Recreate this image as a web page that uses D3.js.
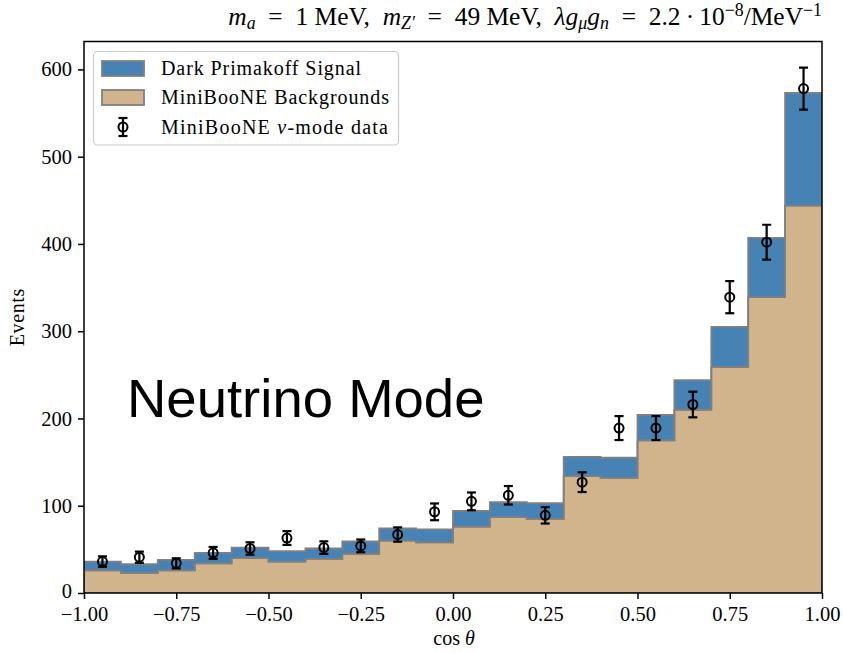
<!DOCTYPE html>
<html><head><meta charset="utf-8">
<script src="https://cdn.jsdelivr.net/npm/d3@7"></script>
<style>body{margin:0;background:#fff}svg{display:block}</style>
</head><body><svg id="c" width="843" height="653"></svg>
<script>
const binEdges = [-1.0,-0.9,-0.8,-0.7,-0.6,-0.5,-0.4,-0.3,-0.2,-0.1,0.0,0.1,0.2,0.3,0.4,0.5,0.6,0.7,0.8,0.9,1.0];
const background = [26,23,26,34,40,36,39,45,60,58,76,87,85,134,132,175,210,259,339,444];
const signal = [10,10,12,12,12,12,12,14,14,15,18,17,18,22,23,29,34,46,68,129];
const dataCenters = [-0.95,-0.85,-0.75,-0.65,-0.55,-0.45,-0.35,-0.25,-0.15,-0.05,0.05,0.15,0.25,0.35,0.45,0.55,0.65,0.75,0.85,0.95];
const dataCounts = [36,41,34,46,51,63,52,54,67,93,105,112,89,127,189,189,216,339,402,578];
const dataErr = [6,6.4,5.8,6.8,7.1,7.9,7.2,7.3,8.2,9.6,10.2,10.6,9.4,11.3,13.7,13.7,14.7,18.4,20,24];
const xTicks = [-1,-0.75,-0.5,-0.25,0,0.25,0.5,0.75,1];
const yTicks = [0,100,200,300,400,500,600];
const legendLabels = ["Dark Primakoff Signal","MiniBooNE Backgrounds","MiniBooNE ν-mode data"];

const W = 843, H = 653;
const m = {left:84, right:822, top:41.5, bottom:593};
const svg = d3.select("#c");
const serif = "'Liberation Serif','DejaVu Serif',serif";

const x = d3.scaleLinear().domain([-1,1]).range([m.left,m.right]);
const y = d3.scaleLinear().domain([0,632]).range([m.bottom,m.top]);

svg.append("defs").append("clipPath").attr("id","pc")
  .append("rect").attr("x",m.left).attr("y",m.top).attr("width",m.right-m.left).attr("height",m.bottom-m.top);

const g = svg.append("g").attr("clip-path","url(#pc)");

const totals = background.map((b,i)=>b+signal[i]);
function stepPts(vals){
  const pts=[];
  vals.forEach((v,i)=>{pts.push([x(binEdges[i]),y(v)]);pts.push([x(binEdges[i+1]),y(v)]);});
  return pts;
}
const line = d3.line();
const bgPts = [[x(-1),y(0)], ...stepPts(background), [x(1),y(0)]];
g.append("path").attr("d", line(bgPts)+"Z").attr("fill","#D2B48C").attr("stroke","#808080").attr("stroke-width",1.8);
const sigPts = [...stepPts(totals), ...stepPts(background).reverse()];
g.append("path").attr("d", line(sigPts)+"Z").attr("fill","#4682B4").attr("stroke","#808080").attr("stroke-width",1.8);

const dg = g.append("g");
dataCounts.forEach((v,i)=>{
  const cx = x(dataCenters[i]);
  const y1 = y(v-dataErr[i]), y2 = y(v+dataErr[i]);
  dg.append("line").attr("x1",cx).attr("x2",cx).attr("y1",y1).attr("y2",y2).attr("stroke","#000").attr("stroke-width",2.2);
  [y1,y2].forEach(yy=>dg.append("line").attr("x1",cx-4.5).attr("x2",cx+4.5).attr("y1",yy).attr("y2",yy).attr("stroke","#000").attr("stroke-width",2.2));
  dg.append("circle").attr("cx",cx).attr("cy",y(v)).attr("r",4.5).attr("fill","none").attr("stroke","#000").attr("stroke-width",2);
});

const fmtX = d => (d<0?"\u2212":"") + Math.abs(d).toFixed(2);
const xAxis = svg.append("g").attr("transform",`translate(0,${m.bottom})`)
  .call(d3.axisBottom(x).tickValues(xTicks).tickFormat(fmtX).tickSize(6).tickPadding(6));
const yAxis = svg.append("g").attr("transform",`translate(${m.left},0)`)
  .call(d3.axisLeft(y).tickValues(yTicks).tickFormat(d3.format("d")).tickSize(6).tickPadding(6));
[xAxis,yAxis].forEach(a=>{
  a.select(".domain").remove();
  a.selectAll("line").attr("stroke","#000").attr("stroke-width",1.5);
  a.selectAll("text").attr("font-family",serif).attr("font-size",20.5).attr("fill","#000");
});
xAxis.selectAll("text").attr("dy","0.76em");
yAxis.selectAll("text").filter(d=>d===0).attr("dy","0.22em");
svg.append("rect").attr("x",m.left).attr("y",m.top).attr("width",m.right-m.left).attr("height",m.bottom-m.top)
  .attr("fill","none").attr("stroke","#000").attr("stroke-width",1.5);

svg.append("text").attr("x",(m.left+m.right)/2+1).attr("y",645).attr("text-anchor","middle")
  .attr("font-family",serif).attr("font-size",20).html("cos <tspan font-style='italic'>θ</tspan>");
svg.append("text").attr("transform",`translate(24,${(m.top+m.bottom)/2}) rotate(-90)`).attr("text-anchor","middle")
  .attr("font-family",serif).attr("font-size",20).attr("letter-spacing",0.6).text("Events");

const t = svg.append("text").attr("x",m.right).attr("y",25).attr("text-anchor","end")
  .attr("font-family",serif).attr("font-size",23);
const sp = "\u2002";
const sub = "style='font-size:0.7em'";
t.html(
 `<tspan font-style='italic'>m</tspan><tspan font-style='italic' ${sub} dy='4'>a</tspan>`+
 `<tspan dy='-4'>${sp}=${sp}1 MeV,\u2002</tspan><tspan font-style='italic'>m</tspan><tspan font-style='italic' ${sub} dy='4'>Z′</tspan>`+
 `<tspan dy='-4'>${sp}=${sp}49 MeV,\u2002</tspan><tspan font-style='italic'>λg</tspan><tspan font-style='italic' ${sub} dy='4'>μ</tspan>`+
 `<tspan font-style='italic' dy='-4'>g</tspan><tspan font-style='italic' ${sub} dy='4'>n</tspan>`+
 `<tspan dy='-4'>${sp}=${sp}2.2\u2009·\u200910</tspan><tspan ${sub} dy='-9'>−8</tspan><tspan dy='9'>/MeV</tspan><tspan ${sub} dy='-9'>−1</tspan>`
);
const tw = t.node().getComputedTextLength();
if (tw > 0) t.attr("font-size", Math.max(19, Math.min(26, 23 * 594 / tw)));

svg.append("text").attr("x",127).attr("y",417).attr("font-family","'Liberation Sans',Arial,sans-serif")
  .attr("font-size",54.5).attr("fill","#000").text("Neutrino Mode");

const lg = svg.append("g");
lg.append("rect").attr("x",93.5).attr("y",51.5).attr("width",305).attr("height",93.5).attr("rx",4)
  .attr("fill","#fff").attr("fill-opacity",0.8).attr("stroke","#cccccc").attr("stroke-width",1.2);
const rowY = [68, 97, 127];
const legendW = [200, 228, 227];
lg.append("rect").attr("x",102).attr("y",61).attr("width",42).attr("height",15).attr("fill","#4682B4").attr("stroke","#808080").attr("stroke-width",1.8);
lg.append("rect").attr("x",102).attr("y",90).attr("width",42).attr("height",15).attr("fill","#D2B48C").attr("stroke","#808080").attr("stroke-width",1.8);
const lx = 123, ly = rowY[2];
lg.append("line").attr("x1",lx).attr("x2",lx).attr("y1",ly-9).attr("y2",ly+9).attr("stroke","#000").attr("stroke-width",2.2);
[ly-9,ly+9].forEach(yy=>lg.append("line").attr("x1",lx-4.5).attr("x2",lx+4.5).attr("y1",yy).attr("y2",yy).attr("stroke","#000").attr("stroke-width",2.2));
lg.append("circle").attr("cx",lx).attr("cy",ly).attr("r",4.5).attr("fill","none").attr("stroke","#000").attr("stroke-width",2);
legendLabels.forEach((s,i)=>{
  const tx = lg.append("text").attr("x",161).attr("y",rowY[i]+7).attr("font-family",serif).attr("font-size",20).attr("fill","#000")
    .attr("textLength",legendW[i]).attr("lengthAdjust","spacing");
  if(i===2){ tx.html("MiniBooNE <tspan font-style='italic'>ν</tspan>-mode data"); } else tx.text(s);
});
</script>
</body></html>
